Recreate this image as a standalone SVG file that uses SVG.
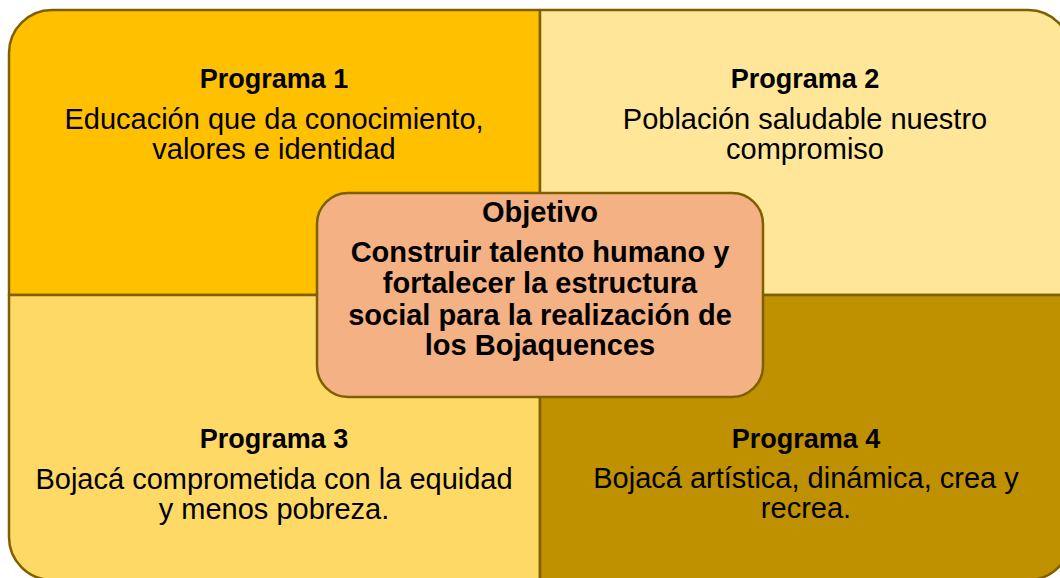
<svg xmlns="http://www.w3.org/2000/svg" width="1060" height="578" viewBox="0 0 1060 578">
<style>
.q{stroke:#7F6000;stroke-width:2.5;stroke-linejoin:round}
.h{font-family:"Liberation Sans",Arial,sans-serif;font-weight:bold;font-size:27px;fill:#000;text-anchor:middle}
.b{font-family:"Liberation Sans",Arial,sans-serif;font-size:29px;fill:#000;text-anchor:middle}
.ob{font-family:"Liberation Sans",Arial,sans-serif;font-weight:bold;font-size:29px;fill:#000;text-anchor:middle}
</style>
<rect width="1060" height="578" fill="#ffffff"/>
<g id="programa1">
<path class="q" fill="#FFC000" d="M9,295 V53 A43,43 0 0 1 52,10 H540 V295 Z"/>
<text class="h" x="274" y="88">Programa 1</text>
<text class="b" x="274" y="129">Educación que da conocimiento,</text>
<text class="b" x="274" y="159">valores e identidad</text>
</g>
<g id="programa2">
<path class="q" fill="#FFE699" d="M540,10 H1028 A43,43 0 0 1 1071,53 V295 H540 Z"/>
<text class="h" x="805" y="88">Programa 2</text>
<text class="b" x="805" y="129">Población saludable nuestro</text>
<text class="b" x="805" y="159">compromiso</text>
</g>
<g id="programa3">
<path class="q" fill="#FFD966" d="M9,295 H540 V580 H52 A43,43 0 0 1 9,537 Z"/>
<text class="h" x="274" y="448">Programa 3</text>
<text class="b" x="274" y="489">Bojacá comprometida con la equidad</text>
<text class="b" x="274" y="519">y menos pobreza.</text>
</g>
<g id="programa4">
<path class="q" fill="#BF9000" d="M540,295 H1071 V537 A43,43 0 0 1 1028,580 H540 Z"/>
<text class="h" x="806" y="448">Programa 4</text>
<text class="b" x="806" y="488">Bojacá artística, dinámica, crea y</text>
<text class="b" x="806" y="518">recrea.</text>
</g>
<g id="connectors"></g>
<g id="objetivo">
<rect class="q" fill="#F4B183" x="317" y="193" width="446" height="204" rx="31" ry="31"/>
<text class="ob" x="540" y="222" font-size="28">Objetivo</text>
<text class="ob" x="540" y="262">Construir talento humano y</text>
<text class="ob" x="540" y="293">fortalecer la estructura</text>
<text class="ob" x="540" y="325">social para la realización de</text>
<text class="ob" x="540" y="355">los Bojaquences</text>
</g>
</svg>
